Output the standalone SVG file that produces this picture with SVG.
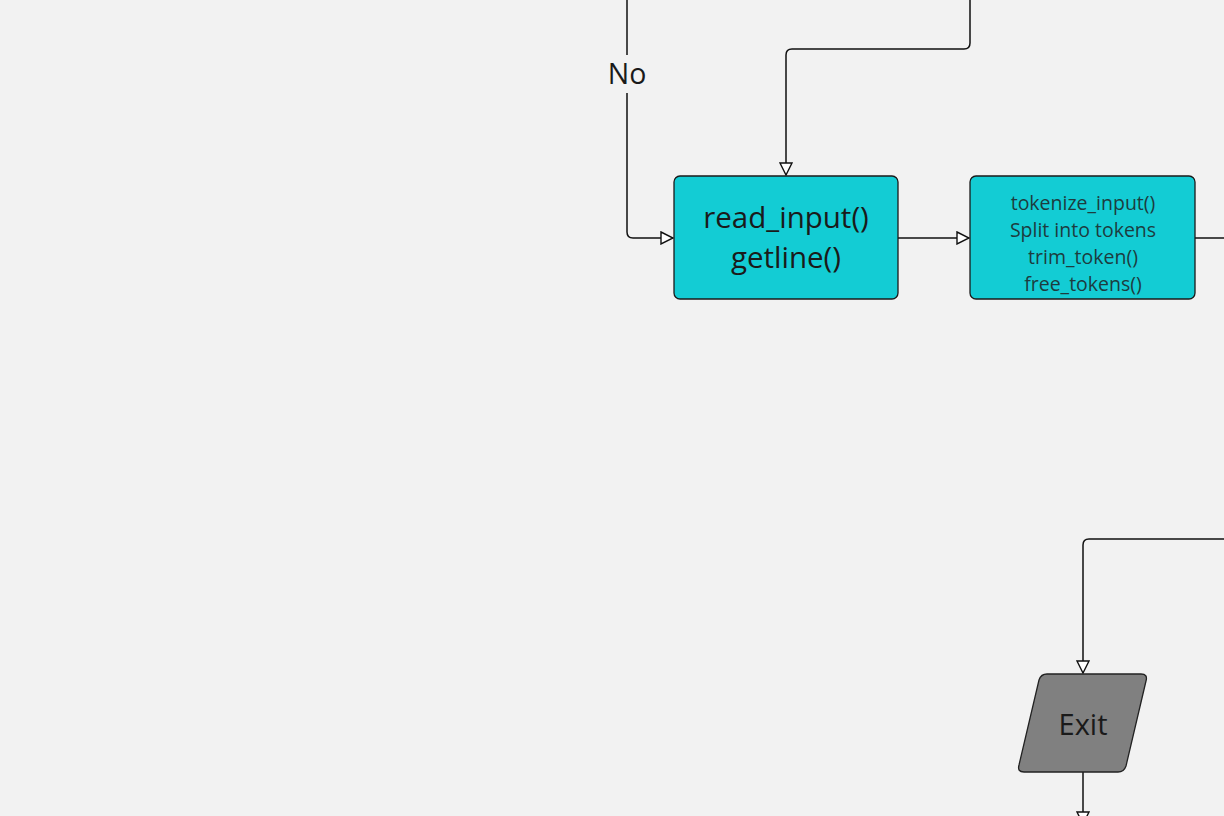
<svg xmlns="http://www.w3.org/2000/svg" width="1224" height="816" viewBox="0 0 1224 816">
<style>
.edge{fill:none;stroke:#111;stroke-width:1.5}
.box{fill:#13ccd4;stroke:#1a1a1a;stroke-width:1.3}
.t{font-family:"Open Sans","DejaVu Sans",sans-serif;text-anchor:middle;fill:#1a1a1a}
.small{fill:#1d3c3f}
</style>
<defs>
<marker id="arr" viewBox="0 0 14 14" refX="13" refY="7" markerWidth="14" markerHeight="14" markerUnits="userSpaceOnUse" orient="auto">
<path d="M1,1 L13,7 L1,13 Z" fill="#fff" stroke="#111" stroke-width="1.4"/>
</marker>
</defs>
<rect width="1224" height="816" fill="#f2f2f2"/>
<g id="connectors">
<path class="edge" d="M627,0 V55"/>
<path class="edge" d="M627,93 V232 Q627,238 633,238 H673" marker-end="url(#arr)"/>
<path class="edge" d="M970,0 V43 Q970,49 964,49 H792 Q786,49 786,55 V175" marker-end="url(#arr)"/>
<path class="edge" d="M898,238 H969" marker-end="url(#arr)"/>
<path class="edge" d="M1195,238 H1224"/>
<path class="edge" d="M1224,539 H1089 Q1083,539 1083,545 V673" marker-end="url(#arr)"/>
<path class="edge" d="M1083,772 V824" marker-end="url(#arr)"/>
<text class="t" x="627" y="84" font-size="28.5">No</text>
</g>
<g id="read_input">
<rect class="box" x="674" y="176" width="224" height="123" rx="6"/>
<text class="t" x="786" y="228" font-size="29.5">read_input()</text>
<text class="t" x="786" y="268" font-size="29.5">getline()</text>
</g>
<g id="tokenize_input">
<rect class="box" x="970" y="176" width="225" height="123" rx="6"/>
<text class="t small" x="1083" y="210" font-size="19.5">tokenize_input()</text>
<text class="t small" x="1083" y="237" font-size="19.5">Split into tokens</text>
<text class="t small" x="1083" y="264" font-size="19.5">trim_token()</text>
<text class="t small" x="1083" y="291" font-size="19.5">free_tokens()</text>
</g>
<g id="exit">
<path d="M1047,674 H1141 Q1148,674 1146,681 L1126,766 Q1124,772 1118,772 H1024 Q1017,772 1019,765 L1039,680 Q1041,674 1047,674 Z" fill="#808080" stroke="#222" stroke-width="1.3"/>
<text class="t" x="1083" y="735" font-size="29" fill="#222">Exit</text>
</g>
</svg>
